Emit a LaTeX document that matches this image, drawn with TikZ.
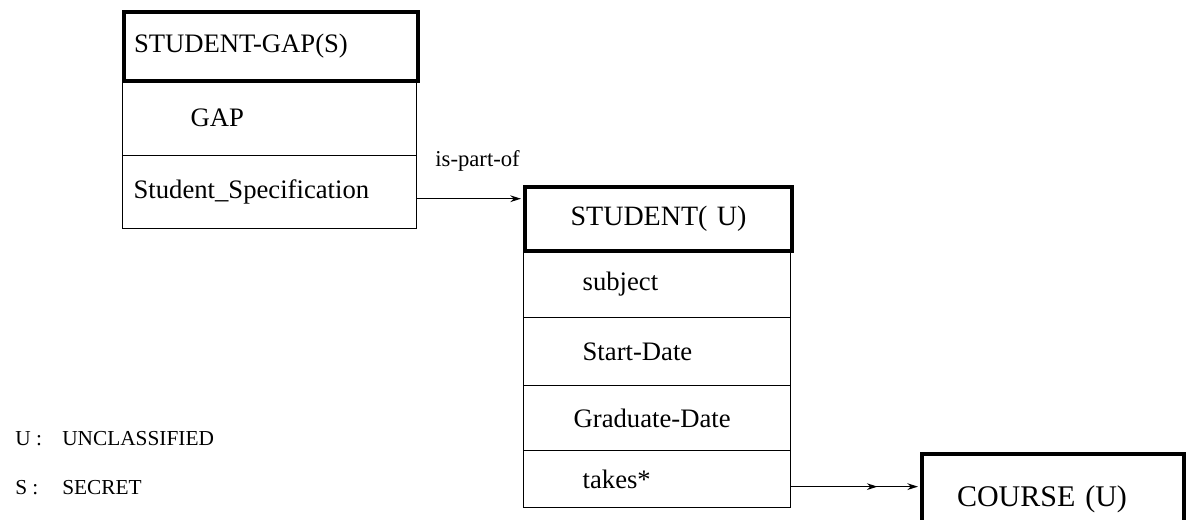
\documentclass[tikz,border=0pt]{standalone}
\usepackage{fontspec}
\setmainfont{Liberation Serif}
\usetikzlibrary{arrows.meta,decorations.markings}
\begin{document}
\begin{tikzpicture}[x=0.75pt,y=-0.75pt,
  every node/.style={font=\fontsize{20}{24}\selectfont},
  cell/.style={draw, line width=1pt, rectangle, anchor=north west,
    align=left, inner ysep=0pt},
  headcell/.style={cell, line width=3pt},
  link/.style={line width=1pt, -{Stealth[length=8pt,width=5pt]}},
  midtip/.style={postaction={decorate}, decoration={markings,
    mark=at position #1 with {\arrow{Stealth[length=8pt,width=5pt]}}}},
  legend/.style={anchor=west, inner sep=0pt, font=\fontsize{16}{19}\selectfont},
]
\useasboundingbox (0,0) rectangle (1190,519);
\clip (0,0) rectangle (1190,519);

% STUDENT-GAP class
\node[cell, minimum width=220.5pt, minimum height=57pt, text width=118.5pt, inner xsep=51pt]
  (gap) at (122,79) {GAP};
\node[cell, minimum width=220.5pt, minimum height=54.75pt, text width=204pt, inner xsep=8.25pt]
  (spec) at (122,155) {Student\_Specification};
\node[headcell, minimum width=220.5pt, minimum height=51.75pt, text width=205.5pt, inner xsep=7.5pt]
  (gaphead) at (122,10) {STUDENT-GAP(S)};

% STUDENT class
\node[cell, minimum width=200.25pt, minimum height=51pt, text width=111.75pt, inner xsep=44.25pt]
  (subject) at (523,249) {subject};
\node[cell, minimum width=200.25pt, minimum height=51pt, text width=111.75pt, inner xsep=44.25pt]
  (start) at (523,317) {Start-Date};
\node[cell, minimum width=200.25pt, minimum height=48.75pt, text width=125.25pt, inner xsep=37.5pt]
  (grad) at (523,385) {Graduate-Date};
\node[cell, minimum width=200.25pt, minimum height=42.75pt, text width=111.75pt, inner xsep=44.25pt]
  (takes) at (523,450) {takes*};
\node[headcell, minimum width=200.25pt, minimum height=48pt, text width=185.25pt, inner xsep=7.5pt,
  align=center, font=\fontsize{21}{25}\selectfont]
  (stuhead) at (523,185) {STUDENT( U)};

% COURSE class
\node[headcell, minimum width=196.5pt, minimum height=67.5pt, text width=144pt, inner xsep=26.25pt,
  font=\fontsize{22.5}{27}\selectfont]
  (course) at (920,452) {COURSE (U)};

% relationships
\draw[link, shorten >=1.5pt] ([yshift=-4.9pt]spec.east) -- ([yshift=-4.9pt]spec.east -| stuhead.west)
  node[pos=0.57, yshift=28.5pt, inner sep=0pt, font=\fontsize{17}{20}\selectfont] {is-part-of};
\draw[link, midtip=0.67, shorten >=1.5pt] ([yshift=-5.6pt]takes.east) -- ([yshift=-5.6pt]takes.east -| course.west);

% legend
\node[legend] (legu) at (15,439) {\makebox[35.25pt][l]{U :}UNCLASSIFIED};
\node[legend] (legs) at (15,488) {\makebox[35.25pt][l]{S :}SECRET};
\end{tikzpicture}
\end{document}
